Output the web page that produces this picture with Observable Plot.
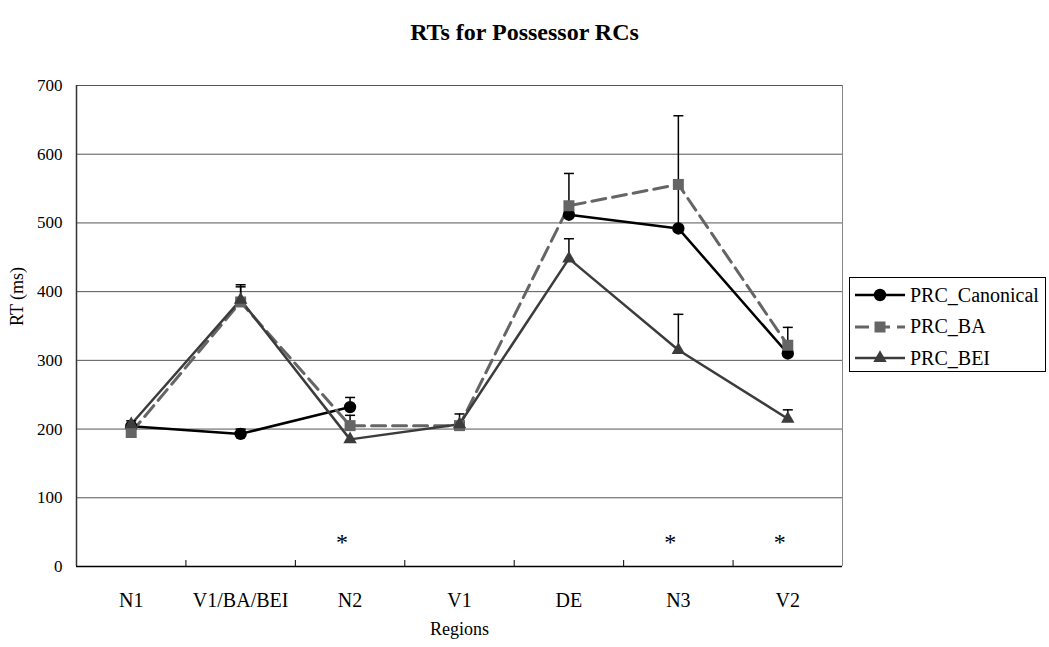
<!DOCTYPE html>
<html><head><meta charset="utf-8">
<script src="https://cdn.jsdelivr.net/npm/d3@7"></script>
<script src="https://cdn.jsdelivr.net/npm/@observablehq/plot@0.6"></script>
<style>
body{margin:0;background:#fff;}
#wrap{position:relative;width:1049px;height:647px;font-family:"Liberation Serif","Times New Roman",serif;color:#000;}
#chart{position:absolute;left:0;top:0;}
#title{position:absolute;left:0;width:1049px;top:17px;text-align:center;font-weight:bold;font-size:24px;line-height:30px;}
#legend{position:absolute;left:849px;top:277px;width:197px;height:95px;border:1px solid #000;box-sizing:border-box;background:#fff;}
.lrow{position:absolute;left:4px;height:30px;display:flex;align-items:center;font-size:20px;}
.lrow svg{margin-right:4px;}
</style></head><body>
<div id="wrap"><div id="chart"></div><div id="title">RTs for Possessor RCs</div><div id="legend"></div></div>
<script>
const categories = ["N1", "V1/BA/BEI", "N2", "V1", "DE", "N3", "V2"];
const seriesNames = ["PRC_Canonical", "PRC_BA", "PRC_BEI"];
const canonical    = [204, 193, 232, null, 512, 492, 310];
const canonicalErr = [null, 200, 246, null, 572, 656, null];
const ba           = [195, 385, 205, 205, 525, 556, 322];
const baErr        = [null, 407, 220, 222, null, null, 348];
const bei          = [207, 388, 185, 207, 448, 315, 215];
const beiErr       = [212, 410, null, null, 477, 367, 228];
const yTicks = [0, 100, 200, 300, 400, 500, 600, 700];
const starCategories = ["N2", "N3", "V2"];

const styles = {
  PRC_Canonical: {color: "#000000", symbol: "circle", dash: null, width: 2.5, r: 6.2},
  PRC_BA: {color: "#656565", symbol: "square", dash: "14,7", width: 3, r: 6.2},
  PRC_BEI: {color: "#3c3c3c", symbol: "triangle", dash: null, width: 2.5, r: 5}
};

function rows(series, vals, errs) {
  return categories.map((c, i) => ({series, cat: c, pos: i + 0.5, value: vals[i], upper: errs[i]}));
}
const seriesData = {
  PRC_Canonical: rows("PRC_Canonical", canonical, canonicalErr),
  PRC_BA: rows("PRC_BA", ba, baErr),
  PRC_BEI: rows("PRC_BEI", bei, beiErr)
};
const errData = seriesNames.flatMap(s => seriesData[s].filter(d => d.upper != null && d.value != null));

const capSymbol = {
  draw(context, size) {
    const r = Math.sqrt(size / Math.PI);
    context.moveTo(-r, 0);
    context.lineTo(r, 0);
  }
};

const marks = [
  Plot.gridY(yTicks, {stroke: "#555", strokeOpacity: 1, strokeWidth: 1}),
  Plot.ruleX([categories.length], {stroke: "#888", strokeWidth: 1}),
  Plot.ruleX([0], {stroke: "#333", strokeWidth: 1.5}),
  Plot.ruleY([0], {stroke: "#000", strokeWidth: 1.5}),
  Plot.axisY({ticks: yTicks, tickSize: 0, tickPadding: 14, fontSize: 17, fill: "#000", label: null}),
  Plot.axisX({ticks: d3.range(1, categories.length), tickSize: -6, tickFormat: () => "", stroke: "#000", label: null}),
  Plot.axisX({ticks: categories.map((c, i) => i + 0.5), tickSize: 0, tickPadding: 26, fontSize: 20, fill: "#000", label: null,
    tickFormat: v => categories[Math.floor(v)]}),
  Plot.text(["RT (ms)"], {frameAnchor: "left", rotate: -90, dx: -59, fontSize: 18, fill: "#000"}),
  Plot.text(["Regions"], {frameAnchor: "bottom", dy: 68, fontSize: 18, fill: "#000"}),
  Plot.text(starCategories, {x: d => categories.indexOf(d) + 0.5, frameAnchor: "bottom", dy: -17, dx: -8, text: () => "*", fontSize: 24, fill: "#000"})
];

for (const s of seriesNames) {
  const st = styles[s];
  marks.push(Plot.line(seriesData[s], {x: "pos", y: "value", stroke: st.color, strokeWidth: st.width, strokeDasharray: st.dash || undefined, strokeLinejoin: "round"}));
}
marks.push(Plot.ruleX(errData, {x: "pos", y1: "value", y2: "upper", stroke: "#000", strokeWidth: 1.5}));
marks.push(Plot.dot(errData, {x: "pos", y: "upper", symbol: capSymbol, r: 5, stroke: "#000", strokeWidth: 1.5}));
for (const s of seriesNames) {
  const st = styles[s];
  marks.push(Plot.dot(seriesData[s].filter(d => d.value != null), {x: "pos", y: "value", symbol: st.symbol, r: st.r, fill: st.color, stroke: "none"}));
}

const chart = Plot.plot({
  width: 1049, height: 647,
  marginLeft: 76, marginRight: 207, marginTop: 85, marginBottom: 81,
  style: {fontFamily: "'Liberation Serif', 'Times New Roman', serif", background: "transparent", color: "#000"},
  x: {type: "linear", domain: [0, categories.length], axis: null, label: null},
  y: {domain: [0, 700], axis: null, label: null},
  marks
});
document.getElementById("chart").appendChild(chart);

// legend
const legend = document.getElementById("legend");
seriesNames.forEach((s, i) => {
  const st = styles[s];
  const row = document.createElement("div");
  row.className = "lrow";
  row.style.top = (2 + i * 31.5) + "px";
  const svg = d3.create("svg").attr("width", 52).attr("height", 20);
  svg.append("line").attr("x1", 1).attr("x2", 51).attr("y1", 10).attr("y2", 10)
    .attr("stroke", st.color).attr("stroke-width", st.width)
    .attr("stroke-dasharray", st.dash ? "14,7" : null);
  const sym = {circle: d3.symbolCircle, square: d3.symbolSquare, triangle: d3.symbolTriangle}[st.symbol];
  svg.append("path").attr("transform", "translate(26,10)")
    .attr("d", d3.symbol(sym, st.r * st.r * Math.PI)()).attr("fill", st.color);
  row.appendChild(svg.node());
  const t = document.createElement("span");
  t.textContent = s;
  row.appendChild(t);
  legend.appendChild(row);
});
</script>
</body></html>
